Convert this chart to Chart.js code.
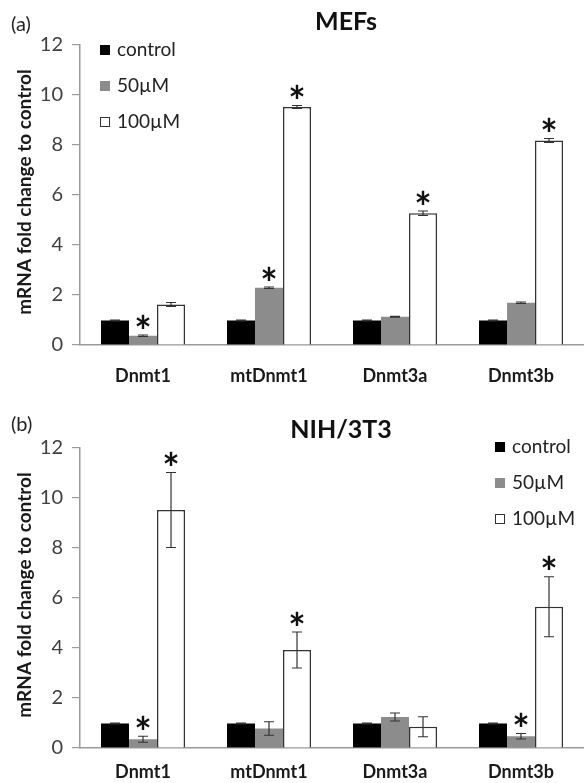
<!DOCTYPE html>
<html>
<head>
<meta charset="utf-8">
<script src="https://cdn.jsdelivr.net/npm/chart.js@4.4.0/dist/chart.umd.min.js"></script>
<style>
html, body { margin: 0; padding: 0; background: #fff; }
#wrap { position: relative; width: 584px; height: 783px; }
.box { position: absolute; left: 0; width: 584px; }
#boxA { top: 0; height: 385px; }
#boxB { top: 385px; height: 398px; }
</style>
</head>
<body>
<div id="wrap">
  <div class="box" id="boxA"><canvas id="chartA"></canvas></div>
  <div class="box" id="boxB"><canvas id="chartB"></canvas></div>
</div>
<script>
// Dados
const genes = ['Dnmt1', 'mtDnmt1', 'Dnmt3a', 'Dnmt3b'];
const seriesNames = ['control', '50µM', '100µM'];
const yTicks = [0, 2, 4, 6, 8, 10, 12];

// (a) MEFs
const mefControl = [0.98, 0.98, 0.98, 0.98];
const mefControlErr = [0.02, 0.02, 0.02, 0.02];
const mef50 = [0.37, 2.29, 1.13, 1.69];
const mef50Err = [0.03, 0.03, 0.02, 0.03];
const mef100 = [1.62, 9.52, 5.27, 8.18];
const mef100Err = [0.08, 0.06, 0.09, 0.08];
const mefStars50 = [true, true, false, false];
const mefStars100 = [false, true, true, true];

// (b) NIH/3T3
const nihControl = [0.98, 0.98, 0.98, 0.98];
const nihControlErr = [0.02, 0.02, 0.02, 0.02];
const nih50 = [0.35, 0.78, 1.24, 0.47];
const nih50Err = [0.12, 0.27, 0.16, 0.11];
const nih100 = [9.52, 3.92, 0.85, 5.65];
const nih100Err = [1.5, 0.72, 0.4, 1.2];
const nihStars50 = [true, false, false, true];
const nihStars100 = [true, true, false, true];

const FONT = 'Lato, "Open Sans", sans-serif';
const corFundo = ['#000000', '#8c8c8c', '#ffffff'];
const corBorda = ['#000000', '#8c8c8c', '#333333'];

// Plugin: barras de erro, asteriscos, títulos, legenda
const extras = {
    id: 'extras',
    afterDatasetsDraw(chart, args, opts) {
        const ctx = chart.ctx;
        const y = chart.scales.y;
        ctx.save();
        opts.errors.forEach((errs, i) => {
            const meta = chart.getDatasetMeta(i);
            meta.data.forEach((bar, j) => {
                const v = chart.data.datasets[i].data[j];
                const yTop = y.getPixelForValue(v + errs[j]);
                const yBot = y.getPixelForValue(v - errs[j]);
                ctx.strokeStyle = '#333';
                ctx.lineWidth = 1.2;
                ctx.beginPath();
                ctx.moveTo(bar.x, yTop); ctx.lineTo(bar.x, yBot);
                ctx.moveTo(bar.x - 5, yTop); ctx.lineTo(bar.x + 5, yTop);
                ctx.moveTo(bar.x - 5, yBot); ctx.lineTo(bar.x + 5, yBot);
                ctx.stroke();
                if (opts.stars[i] && opts.stars[i][j]) {
                    desenharAsterisco(ctx, bar.x, yTop - 14);
                }
            });
        });
        ctx.restore();
    },
    afterDraw(chart, args, opts) {
        const ctx = chart.ctx;
        const area = chart.chartArea;
        ctx.save();
        ctx.fillStyle = '#111';
        // título
        ctx.font = 'bold 25px ' + FONT;
        ctx.textAlign = 'center';
        ctx.textBaseline = 'middle';
        ctx.fillText(opts.title, opts.titleX, opts.titleY);
        // (a) / (b)
        ctx.font = '20px ' + FONT;
        ctx.textAlign = 'left';
        ctx.fillStyle = '#222';
        ctx.fillText(opts.panel, 11, opts.panelY);
        // título do eixo y
        ctx.save();
        ctx.translate(25, (area.top + area.bottom) / 2 - 3);
        ctx.rotate(-Math.PI / 2);
        ctx.font = 'bold 19px ' + FONT;
        ctx.textAlign = 'center';
        ctx.fillStyle = '#1a1a1a';
        ctx.fillText('mRNA fold change to control', 0, 0);
        ctx.restore();
        // legenda
        ctx.font = '19px ' + FONT;
        ctx.textAlign = 'left';
        seriesNames.forEach((nome, i) => {
            const ly = opts.legendY + i * 36;
            ctx.fillStyle = corFundo[i];
            ctx.fillRect(opts.legendX, ly - 5, 10, 10);
            if (i === 2) {
                ctx.strokeStyle = '#333';
                ctx.lineWidth = 1;
                ctx.strokeRect(opts.legendX + 0.5, ly - 4.5, 9, 9);
            }
            ctx.fillStyle = '#222';
            ctx.fillText(nome, opts.legendX + 17, ly);
        });
        ctx.restore();
    }
};

function desenharAsterisco(ctx, cx, cy) {
    ctx.save();
    ctx.font = 'bold 100px ' + FONT;
    const m = ctx.measureText('*');
    const h = m.actualBoundingBoxAscent + m.actualBoundingBoxDescent;
    const size = 100 * 14 / h;
    ctx.font = 'bold ' + size + 'px ' + FONT;
    const m2 = ctx.measureText('*');
    ctx.textAlign = 'center';
    ctx.textBaseline = 'alphabetic';
    ctx.fillStyle = '#111';
    ctx.fillText('*', cx, cy + (m2.actualBoundingBoxAscent - m2.actualBoundingBoxDescent) / 2);
    ctx.restore();
}

function criarGrafico(id, valores, erros, estrelas, cfg) {
    const ctx = document.getElementById(id).getContext('2d');
    return new Chart(ctx, {
        type: 'bar',
        data: {
            labels: genes,
            datasets: seriesNames.map((nome, i) => ({
                label: nome,
                data: valores[i],
                backgroundColor: corFundo[i],
                borderColor: corBorda[i],
                borderWidth: i === 2 ? 1.5 : 0,
                categoryPercentage: 0.667,
                barPercentage: 1
            }))
        },
        options: {
            responsive: true,
            maintainAspectRatio: false,
            animation: false,
            layout: { padding: { top: cfg.padTop, left: 0, right: 0, bottom: 0 } },
            scales: {
                x: {
                    grid: { display: false, drawTicks: false },
                    border: { display: true, color: '#9a9a9a', width: 1.5 },
                    ticks: {
                        color: '#1a1a1a',
                        padding: cfg.xPad,
                        font: { family: FONT, size: 18, weight: 'bold' }
                    },
                    afterFit(scale) { scale.height = cfg.xHeight; }
                },
                y: {
                    min: 0,
                    max: 12,
                    afterBuildTicks(scale) { scale.ticks = yTicks.map(v => ({ value: v })); },
                    grid: { drawOnChartArea: false, drawTicks: true, tickLength: 8, color: '#9a9a9a', lineWidth: 1.2 },
                    border: { display: true, color: '#9a9a9a', width: 1.5 },
                    ticks: {
                        color: '#404040',
                        padding: 9,
                        font: { family: FONT, size: 20 }
                    },
                    afterFit(scale) { scale.width = 80; }
                }
            },
            plugins: {
                legend: { display: false },
                tooltip: { enabled: false },
                extras: {
                    errors: erros,
                    stars: estrelas,
                    title: cfg.title,
                    titleX: cfg.titleX,
                    titleY: cfg.titleY,
                    panel: cfg.panel,
                    panelY: cfg.panelY,
                    legendX: cfg.legendX,
                    legendY: cfg.legendY
                }
            }
        },
        plugins: [extras]
    });
}

criarGrafico('chartA',
    [mefControl, mef50, mef100],
    [mefControlErr, mef50Err, mef100Err],
    [null, mefStars50, mefStars100],
    { padTop: 45, xHeight: 40, xPad: 20, title: 'MEFs', titleX: 346, titleY: 22,
      panel: '(a)', panelY: 25, legendX: 100, legendY: 50 });

criarGrafico('chartB',
    [nihControl, nih50, nih100],
    [nihControlErr, nih50Err, nih100Err],
    [null, nihStars50, nihStars100],
    { padTop: 63, xHeight: 35, xPad: 13, title: 'NIH/3T3', titleX: 341, titleY: 45,
      panel: '(b)', panelY: 40, legendX: 495, legendY: 62 });
</script>
</body>
</html>
